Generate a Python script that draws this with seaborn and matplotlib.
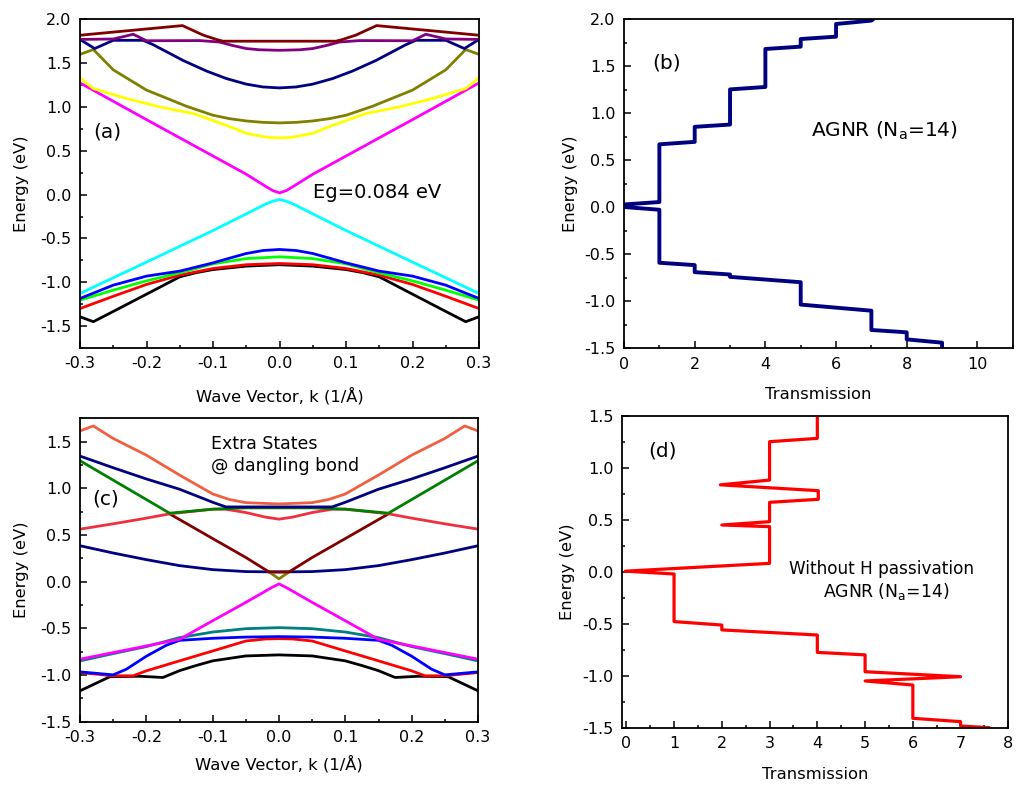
import numpy as np
import matplotlib
matplotlib.use("Agg")
import matplotlib.pyplot as plt
from matplotlib.ticker import MultipleLocator, FormatStrFormatter
import seaborn as sns

# ---------------- data: panel (a) bands, half-range k >= 0 (symmetric) -------------
a_maroon_k = [0, 0.085, 0.095, 0.115, 0.146, 0.3]
a_maroon_E = [1.75, 1.75, 1.77, 1.82, 1.928, 1.818]
a_purple_k = [0, 0.03, 0.05, 0.07, 0.09, 0.12, 0.2, 0.22, 0.25, 0.3]
a_purple_E = [1.646, 1.652, 1.666, 1.70, 1.74, 1.757, 1.755, 1.829, 1.775, 1.77]
a_navy_k = [0, 0.025, 0.05, 0.08, 0.11, 0.145, 0.19, 0.205, 0.25, 0.278, 0.3]
a_navy_E = [1.217, 1.228, 1.26, 1.324, 1.41, 1.53, 1.71, 1.76, 1.76, 1.666, 1.77]
a_olive_k = [0, 0.025, 0.05, 0.075, 0.1, 0.14, 0.2, 0.25, 0.28, 0.3]
a_olive_E = [0.818, 0.824, 0.84, 0.866, 0.905, 1.008, 1.192, 1.423, 1.655, 1.60]
a_yellow_k = [0, 0.02, 0.05, 0.08, 0.13, 0.18, 0.23, 0.28, 0.3]
a_yellow_E = [0.647, 0.655, 0.70, 0.79, 0.925, 1.0, 1.096, 1.21, 1.331]
a_magenta_k = [0, 0.01, 0.02, 0.05, 0.1, 0.2, 0.3]
a_magenta_E = [0.02, 0.045, 0.09, 0.232, 0.44, 0.855, 1.274]
a_cyan_k = [0, 0.01, 0.02, 0.05, 0.1, 0.2, 0.3]
a_cyan_E = [-0.056, -0.075, -0.105, -0.22, -0.41, -0.77, -1.128]
a_blue_k = [0, 0.025, 0.05, 0.075, 0.1, 0.15, 0.2, 0.25, 0.3]
a_blue_E = [-0.626, -0.638, -0.672, -0.725, -0.779, -0.873, -0.93, -1.033, -1.185]
a_green_k = [0, 0.05, 0.1, 0.15, 0.2, 0.25, 0.3]
a_green_E = [-0.71, -0.73, -0.79, -0.893, -0.984, -1.09, -1.204]
a_red_k = [0, 0.05, 0.1, 0.15, 0.2, 0.25, 0.3]
a_red_E = [-0.786, -0.80, -0.843, -0.919, -1.025, -1.16, -1.30]
a_black_k = [0, 0.05, 0.1, 0.125, 0.15, 0.2, 0.25, 0.28, 0.3]
a_black_E = [-0.80, -0.816, -0.855, -0.89, -0.938, -1.136, -1.333, -1.45, -1.394]

# ---------------- data: panel (c) bands, half-range k >= 0 (symmetric) -------------
c_coral_k = [0, 0.05, 0.075, 0.1, 0.15, 0.2, 0.25, 0.28, 0.3]
c_coral_E = [0.832, 0.846, 0.88, 0.939, 1.142, 1.355, 1.534, 1.668, 1.615]
c_navyup_k = [0, 0.08, 0.1, 0.15, 0.2, 0.25, 0.3]
c_navyup_E = [0.80, 0.80, 0.85, 0.99, 1.10, 1.22, 1.345]
c_green_k = [0, 0.05, 0.1, 0.165, 0.2, 0.25, 0.3]
c_green_E = [0.79, 0.79, 0.776, 0.733, 0.879, 1.087, 1.295]
c_redup_k = [0, 0.02, 0.05, 0.08, 0.1, 0.165, 0.2, 0.25, 0.3]
c_redup_E = [0.669, 0.69, 0.74, 0.775, 0.776, 0.726, 0.68, 0.619, 0.562]
c_navylo_k = [0, 0.05, 0.1, 0.15, 0.2, 0.25, 0.3]
c_navylo_E = [0.103, 0.107, 0.128, 0.171, 0.235, 0.306, 0.384]
c_maroon_k = [0.015, 0.05, 0.1, 0.165]
c_maroon_E = [0.103, 0.258, 0.461, 0.726]
c_olive_k = [0, 0.015]
c_olive_E = [0.029, 0.103]
c_magenta_k = [0, 0.01, 0.05, 0.1, 0.15, 0.2, 0.25, 0.3]
c_magenta_E = [-0.025, -0.06, -0.223, -0.42, -0.619, -0.69, -0.761, -0.832]
c_teal_k = [0, 0.05, 0.1, 0.15, 0.2, 0.25, 0.3]
c_teal_E = [-0.494, -0.505, -0.541, -0.601, -0.697, -0.772, -0.85]
c_blue_k = [0, 0.05, 0.1, 0.15, 0.17, 0.2, 0.23, 0.25, 0.3]
c_blue_E = [-0.59, -0.595, -0.608, -0.63, -0.683, -0.80, -0.939, -1.0, -0.968]
c_redlo_k = [0, 0.02, 0.05, 0.1, 0.15, 0.2, 0.22, 0.25, 0.3]
c_redlo_E = [-0.612, -0.615, -0.637, -0.744, -0.85, -0.957, -1.01, -1.01, -0.975]
c_black_k = [0, 0.05, 0.1, 0.125, 0.15, 0.175, 0.21, 0.255, 0.3]
c_black_E = [-0.786, -0.797, -0.85, -0.90, -0.955, -1.028, -1.015, -1.02, -1.171]

# ---------------- data: panel (b) transmission (one path, top to bottom) ------------
b_T = [7.05, 7, 6, 6, 5, 5, 4, 4, 3, 3, 2, 2, 1, 1, 0, 0, 1, 1, 2, 2, 3, 3, 5, 5,
       7, 7, 8, 8, 9, 9]
b_E = [2.0, 1.986, 1.95, 1.815, 1.79, 1.709, 1.684, 1.28, 1.254, 0.88, 0.856, 0.696,
       0.67, 0.056, 0.03, 0.003, -0.026, -0.59, -0.615, -0.69, -0.715, -0.74, -0.797,
       -1.035, -1.10, -1.305, -1.33, -1.405, -1.44, -1.5]

# ---------------- data: panel (d) transmission (one path, top to bottom) ------------
d_T = [4, 4, 3, 3, 1.97, 4.02, 4.02, 3, 3, 2, 3, 3, -0.02, 1, 1, 2, 2, 4, 4, 5, 5,
       7.0, 5, 6, 6, 7, 7, 7.6]
d_E = [1.5, 1.282, 1.25, 0.881, 0.835, 0.779, 0.696, 0.667, 0.481, 0.449, 0.433, 0.08,
       0.005, -0.022, -0.48, -0.513, -0.56, -0.609, -0.776, -0.80, -0.962, -1.01, -1.051,
       -1.09, -1.41, -1.442, -1.484, -1.5]

# ---------------- style -----------------------------------------------------------
sns.set_style("ticks")
plt.rcParams["font.family"] = ["DejaVu Sans"]
plt.rcParams["axes.unicode_minus"] = False
plt.rcParams["mathtext.fontset"] = "dejavusans"
plt.rcParams["text.color"] = "black"
plt.rcParams["axes.labelcolor"] = "black"
plt.rcParams["xtick.color"] = "black"
plt.rcParams["ytick.color"] = "black"

fig = plt.figure(figsize=(10.17, 7.90), dpi=100)
ax_a = fig.add_axes([0.0787, 0.5595, 0.3923, 0.4161])
ax_b = fig.add_axes([0.6136, 0.5591, 0.3822, 0.4165])
ax_c = fig.add_axes([0.0787, 0.0867, 0.3913, 0.3838])
ax_d = fig.add_axes([0.6116, 0.0789, 0.3799, 0.3949])

TICK_FS = 11.5
LABEL_FS = 11.8


def mirror(k, E):
    k = np.asarray(k, float)
    E = np.asarray(E, float)
    if k[0] == 0:
        kk = np.concatenate([-k[::-1], k[1:]])
        EE = np.concatenate([E[::-1], E[1:]])
    else:
        kk = np.concatenate([-k[::-1], k])
        EE = np.concatenate([E[::-1], E])
    return kk, EE


def band(ax, k, E, color, lw=2.0):
    kk, EE = mirror(k, E)
    sns.lineplot(x=kk, y=EE, ax=ax, color=color, lw=lw, sort=False, estimator=None)


def style_axes(ax, xmaj, xmin, ymaj, ymin, xfmt, yfmt="%.1f"):
    ax.xaxis.set_major_locator(MultipleLocator(xmaj))
    ax.xaxis.set_minor_locator(MultipleLocator(xmin))
    ax.yaxis.set_major_locator(MultipleLocator(ymaj))
    ax.yaxis.set_minor_locator(MultipleLocator(ymin))
    ax.xaxis.set_major_formatter(FormatStrFormatter(xfmt))
    ax.yaxis.set_major_formatter(FormatStrFormatter(yfmt))
    ax.tick_params(which="both", direction="in", top=False, right=False, width=1.1,
                   labelsize=TICK_FS, colors="black")
    ax.tick_params(which="major", length=4.7, pad=6)
    ax.tick_params(which="minor", length=2.4)
    for s in ax.spines.values():
        s.set_linewidth(1.3)
        s.set_color("black")


# ---- (a)
band(ax_a, a_black_k, a_black_E, "black")
band(ax_a, a_red_k, a_red_E, "#FF0000")
band(ax_a, a_green_k, a_green_E, "#00FF00")
band(ax_a, a_blue_k, a_blue_E, "#0000FF")
band(ax_a, a_cyan_k, a_cyan_E, "#00FFFF")
band(ax_a, a_magenta_k, a_magenta_E, "#FF00FF")
band(ax_a, a_yellow_k, a_yellow_E, "#FFFF00")
band(ax_a, a_olive_k, a_olive_E, "#808000")
band(ax_a, a_navy_k, a_navy_E, "#000080")
band(ax_a, a_purple_k, a_purple_E, "#800080")
band(ax_a, a_maroon_k, a_maroon_E, "#800000")
ax_a.set_xlim(-0.3, 0.3)
ax_a.set_ylim(-1.75, 2.0)
style_axes(ax_a, 0.1, 0.05, 0.5, 0.25, "%.1f")
ax_a.set_xlabel("Wave Vector, k (1/Å)", fontsize=LABEL_FS)
ax_a.set_ylabel("Energy (eV)", fontsize=LABEL_FS)
ax_a.xaxis.set_label_coords(0.5, -0.118)
ax_a.yaxis.set_label_coords(-0.128, 0.5)
ax_a.text(-0.28, 0.71, "(a)", fontsize=14.5, va="center", ha="left")
ax_a.text(0.05, 0.02, "Eg=0.084 eV", fontsize=14, va="center", ha="left")

# ---- (b)
sns.lineplot(x=b_T, y=b_E, ax=ax_b, color="#000080", lw=2.8, sort=False, estimator=None)
ax_b.set_xlim(0, 11)
ax_b.set_ylim(-1.5, 2.0)
style_axes(ax_b, 2, 1, 0.5, 0.25, "%d")
ax_b.set_xlabel("Transmission", fontsize=LABEL_FS)
ax_b.set_ylabel("Energy (eV)", fontsize=LABEL_FS)
ax_b.xaxis.set_label_coords(0.5, -0.118)
ax_b.yaxis.set_label_coords(-0.118, 0.5)
ax_b.text(0.8, 1.54, "(b)", fontsize=14.5, va="center", ha="left")
ax_b.text(5.29, 0.75, r"AGNR (N$_{\rm a}$=14)", fontsize=14.5, va="baseline", ha="left")

# ---- (c)
band(ax_c, c_black_k, c_black_E, "black")
band(ax_c, c_redlo_k, c_redlo_E, "#FF0000")
band(ax_c, c_blue_k, c_blue_E, "#0000FF")
band(ax_c, c_teal_k, c_teal_E, "#008080")
band(ax_c, c_magenta_k, c_magenta_E, "#FF00FF")
band(ax_c, c_navylo_k, c_navylo_E, "#000080")
band(ax_c, c_olive_k, c_olive_E, "#808000")
band(ax_c, c_maroon_k, c_maroon_E, "#800000")
band(ax_c, c_redup_k, c_redup_E, "#F03040")
band(ax_c, c_green_k, c_green_E, "#008000")
band(ax_c, c_navyup_k, c_navyup_E, "#000080")
band(ax_c, c_coral_k, c_coral_E, "#F06040")
ax_c.set_xlim(-0.3, 0.3)
ax_c.set_ylim(-1.5, 1.75)
style_axes(ax_c, 0.1, 0.05, 0.5, 0.25, "%.1f")
ax_c.set_yticks([-1.5, -1.0, -0.5, 0.0, 0.5, 1.0, 1.5])
ax_c.set_xlabel("Wave Vector, k (1/Å)", fontsize=LABEL_FS)
ax_c.set_ylabel("Energy (eV)", fontsize=LABEL_FS)
ax_c.xaxis.set_label_coords(0.5, -0.11)
ax_c.yaxis.set_label_coords(-0.128, 0.5)
ax_c.text(-0.281, 0.88, "(c)", fontsize=14.5, va="center", ha="left")
ax_c.text(-0.102, 1.419, "Extra States", fontsize=12.5, va="baseline", ha="left")
ax_c.text(-0.102, 1.188, "@ dangling bond", fontsize=12.5, va="baseline", ha="left")

# ---- (d)
sns.lineplot(x=d_T, y=d_E, ax=ax_d, color="#FF0000", lw=2.3, sort=False, estimator=None)
ax_d.set_xlim(-0.09, 8)
ax_d.set_ylim(-1.5, 1.5)
style_axes(ax_d, 1, 0.5, 0.5, 0.25, "%d")
ax_d.set_xlabel("Transmission", fontsize=LABEL_FS)
ax_d.set_ylabel("Energy (eV)", fontsize=LABEL_FS)
ax_d.xaxis.set_label_coords(0.5, -0.126)
ax_d.yaxis.set_label_coords(-0.122, 0.5)
ax_d.text(0.46, 1.16, "(d)", fontsize=14.5, va="center", ha="left")
ax_d.text(5.35, -0.022, "Without H passivation", fontsize=12.2, va="baseline", ha="center")
ax_d.text(5.45, -0.246, r"AGNR (N$_{\rm a}$=14)", fontsize=12.4, va="baseline", ha="center")

fig.savefig("out.png", dpi=100)
